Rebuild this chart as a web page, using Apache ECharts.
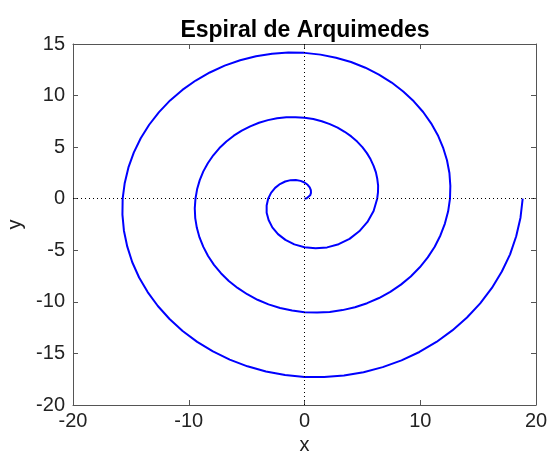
<!DOCTYPE html>
<html>
<head>
<meta charset="utf-8">
<script src="https://cdn.jsdelivr.net/npm/echarts@6/dist/echarts.min.js"></script>
<style>
  html, body { margin: 0; padding: 0; background: #fff; }
</style>
</head>
<body>
<div id="main" style="width: 547px; height: 453px"></div>
<script>
// points: coarse on the inner turn, finer on the outer turns
const spiralX = [
  0, 0.19, 0.36, 0.49, 0.56, 0.55, 0.45, 0.27,
  0, -0.34, -0.75, -1.2, -1.67, -2.12, -2.54, -2.89,
  -3.14, -3.27, -3.27, -3.1, -2.78, -2.29, -1.65, -0.88,
  0, 0.96, 1.95, 2.95, 3.89, 4.73, 5.44, 5.97,
  6.28, 6.35, 6.36, 6.29, 6.17, 5.97, 5.71, 5.39,
  5.0, 4.55, 4.04, 3.47, 2.86, 2.19, 1.49, 0.76,
  0, -0.78, -1.57, -2.37, -3.16, -3.93, -4.69, -5.42,
  -6.11, -6.75, -7.35, -7.88, -8.34, -8.74, -9.05, -9.28,
  -9.42, -9.48, -9.44, -9.3, -9.07, -8.74, -8.33, -7.82,
  -7.22, -6.54, -5.78, -4.95, -4.06, -3.11, -2.11, -1.07,
  0, 1.09, 2.18, 3.28, 4.36, 5.41, 6.44, 7.41,
  8.33, 9.18, 9.96, 10.65, 11.25, 11.74, 12.13, 12.41,
  12.57, 12.6, 12.52, 12.31, 11.97, 11.52, 10.94, 10.25,
  9.44, 8.53, 7.53, 6.43, 5.26, 4.02, 2.72, 1.38,
  0, -1.4, -2.8, -4.19, -5.56, -6.9, -8.18, -9.4,
  -10.55, -11.61, -12.57, -13.42, -14.15, -14.75, -15.21, -15.53,
  -15.71, -15.73, -15.6, -15.31, -14.88, -14.29, -13.55, -12.67,
  -11.66, -10.53, -9.27, -7.91, -6.46, -4.93, -3.33, -1.68,
  0, 1.7, 3.41, 5.1, 6.76, 8.38, 9.93, 11.4,
  12.77, 14.04, 15.18, 16.19, 17.05, 17.76, 18.29, 18.66,
  18.85
]
const spiralY = [
  0, 0.04, 0.15, 0.33, 0.56, 0.82, 1.09, 1.35,
  1.57, 1.73, 1.81, 1.8, 1.67, 1.42, 1.05, 0.57,
  0, -0.65, -1.35, -2.07, -2.78, -3.43, -3.99, -4.43,
  -4.71, -4.81, -4.72, -4.41, -3.89, -3.16, -2.25, -1.19,
  0, 0.63, 1.26, 1.91, 2.55, 3.19, 3.82, 4.42,
  5.0, 5.54, 6.04, 6.49, 6.89, 7.23, 7.51, 7.72,
  7.85, 7.91, 7.9, 7.8, 7.62, 7.36, 7.02, 6.6,
  6.11, 5.54, 4.91, 4.21, 3.46, 2.65, 1.8, 0.91,
  0, -0.93, -1.88, -2.82, -3.76, -4.67, -5.56, -6.41,
  -7.22, -7.97, -8.65, -9.26, -9.8, -10.24, -10.59, -10.84,
  -11.0, -11.04, -10.98, -10.8, -10.52, -10.13, -9.63, -9.03,
  -8.33, -7.54, -6.65, -5.69, -4.66, -3.56, -2.41, -1.22,
  0, 1.24, 2.49, 3.73, 4.96, 6.16, 7.31, 8.41,
  9.44, 10.4, 11.26, 12.03, 12.7, 13.25, 13.67, 13.97,
  14.14, 14.17, 14.06, 13.81, 13.42, 12.9, 12.24, 11.46,
  10.55, 9.53, 8.4, 7.17, 5.86, 4.47, 3.03, 1.53,
  0, -1.55, -3.1, -4.65, -6.16, -7.64, -9.05, -10.4,
  -11.66, -12.83, -13.88, -14.81, -15.6, -16.25, -16.75, -17.1,
  -17.28, -17.29, -17.14, -16.82, -16.33, -15.67, -14.86, -13.89,
  -12.77, -11.52, -10.15, -8.65, -7.06, -5.39, -3.64, -1.84,
  0
]
const xRange = [-20, 20]
const yRange = [-20, 15]

const init = () => {
  const myChart = echarts.init(document.getElementById('main'))
  const font = 'Liberation Sans, Arial, sans-serif'
  const axisColor = '#555'
  const frame = (pos, show) => ({
    type: 'value',
    position: pos,
    interval: 5,
    axisLine: { show: true, onZero: false, lineStyle: { color: axisColor, width: 1 } },
    axisTick: { show: true, inside: true, length: 5, lineStyle: { color: axisColor } },
    axisLabel: { show: show, color: '#222', fontSize: 20, fontFamily: font },
    splitLine: { show: false }
  })
  const xBottom = Object.assign(frame('bottom', true), {
    min: xRange[0], max: xRange[1], interval: 10,
    name: 'x', nameLocation: 'middle', nameGap: 28,
    nameTextStyle: { fontSize: 20, color: '#222', fontFamily: font }
  })
  xBottom.axisLabel.margin = 6
  const xTop = Object.assign(frame('top', false), { min: xRange[0], max: xRange[1], interval: 10 })
  const yLeft = Object.assign(frame('left', true), {
    min: yRange[0], max: yRange[1],
    name: 'y', nameLocation: 'middle', nameGap: 42,
    nameTextStyle: { fontSize: 20, color: '#222', fontFamily: font }
  })
  yLeft.axisLabel.margin = 8
  const yRight = Object.assign(frame('right', false), { min: yRange[0], max: yRange[1] })

  const option = {
    animation: false,
    title: {
      text: 'Espiral de Arquimedes',
      left: 300,
      textAlign: 'center',
      top: 14,
      textStyle: { fontSize: 23, fontWeight: 'bold', color: '#000', fontFamily: font }
    },
    grid: { left: 73, right: 11, top: 44, bottom: 48, outerBoundsMode: 'none', containLabel: false },
    xAxis: [xBottom, xTop],
    yAxis: [yLeft, yRight],
    series: [
      {
        type: 'line',
        data: spiralX.map((x, i) => [x, spiralY[i]]),
        smooth: false,
        showSymbol: false,
        lineStyle: { color: '#0000ff', width: 2, join: 'round' },
        markLine: {
          silent: true,
          symbol: ['none', 'none'],
          label: { show: false },
          lineStyle: { color: '#000', width: 1, type: [1, 3] },
          data: [{ xAxis: 0 }, { yAxis: 0 }]
        }
      }
    ]
  }
  myChart.setOption(option)
}
init()
</script>
</body>
</html>
